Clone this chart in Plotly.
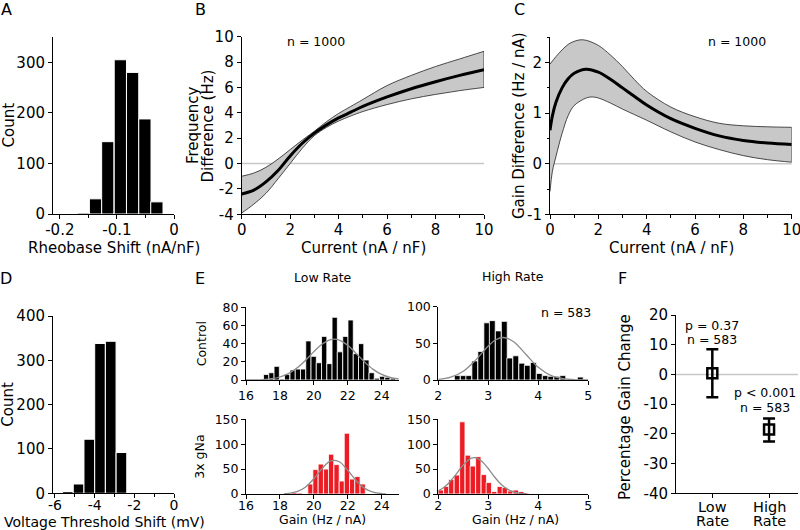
import plotly.graph_objects as go

# ---------------- data ----------------
# A: rheobase shift histogram
a_centers = [-0.158, -0.1375, -0.116, -0.094, -0.0725, -0.051, -0.030]
a_counts = [2, 30, 143, 305, 280, 188, 24]
a_width = 0.0215

# B: frequency difference vs current
b_x = [0, 0.5, 1, 1.5, 2, 2.5, 3, 3.5, 4, 4.5, 5, 6, 7, 8, 9, 10]
b_mean = [-2.4, -2.1, -1.45, -0.55, 0.6, 1.6, 2.4, 3.05, 3.6, 4.05, 4.5, 5.25, 5.9, 6.45, 6.95, 7.4]
b_upper = [-1.0, -0.75, -0.3, 0.35, 1.1, 1.85, 2.55, 3.3, 3.95, 4.5, 5.05, 6.15, 6.95, 7.65, 8.25, 8.85]
b_lower = [-3.9, -3.2, -2.35, -1.2, 0.0, 1.2, 2.2, 2.85, 3.35, 3.75, 4.1, 4.65, 5.1, 5.45, 5.75, 6.0]

# C: gain difference vs current
c_x_mean = [0, 0.1, 0.25, 0.5, 0.75, 1, 1.5, 2, 2.5, 3, 3.5, 4, 5, 6, 7, 8, 9, 10]
c_mean = [0.66, 0.95, 1.22, 1.5, 1.68, 1.79, 1.87, 1.81, 1.67, 1.5, 1.33, 1.16, 0.89, 0.7, 0.55, 0.46, 0.41, 0.38]
c_x_upper = [0, 0.25, 0.5, 0.75, 1, 1.25, 1.5, 2, 2.5, 3, 3.5, 4, 5, 6, 7, 8, 9, 10]
c_upper = [1.97, 2.12, 2.25, 2.36, 2.42, 2.45, 2.44, 2.34, 2.15, 1.92, 1.66, 1.43, 1.12, 0.93, 0.8, 0.75, 0.73, 0.72]
c_x_lower = [0, 0.1, 0.25, 0.5, 0.75, 1, 1.5, 1.75, 2, 2.5, 3, 3.5, 4, 5, 6, 7, 8, 9, 10]
c_lower = [-0.55, -0.15, 0.15, 0.6, 0.95, 1.15, 1.3, 1.32, 1.3, 1.2, 1.08, 0.97, 0.86, 0.63, 0.43, 0.28, 0.16, 0.08, 0.03]

# D: voltage threshold shift histogram
d_centers = [-5.35, -4.81, -4.27, -3.73, -3.19, -2.65]
d_counts = [4, 21, 122, 338, 343, 92]
d_width = 0.537

# E: gain histograms
e1_centers = [17.19, 17.50, 17.81, 18.12, 18.43, 18.75, 19.06, 19.37, 19.68, 19.99, 20.30, 20.61,
              20.92, 21.23, 21.54, 21.86, 22.17, 22.48, 22.79, 23.10, 23.41, 23.72, 24.03, 24.34, 24.66]
e1_counts = [6, 8, 15, 1, 6, 11, 12, 12, 43, 26, 19, 48, 18, 69, 31, 48, 66, 29, 40, 22, 8, 2, 4, 3, 2]
e1_fit_x = [16, 16.5, 17, 17.5, 18, 18.5, 19, 19.5, 20, 20.5, 21, 21.5, 22, 22.5, 23, 23.5, 24, 24.5, 25]
e1_fit_y = [0.05, 0.16, 0.5, 1.4, 3.3, 7.0, 13.1, 21.5, 31.2, 39.7, 44.5, 44.0, 38.2, 29.2, 19.7, 11.7, 6.1, 2.8, 1.1]

e2_centers = [18.54, 18.85, 19.17, 19.80, 20.10, 20.41, 20.73, 21.02, 21.34, 21.65, 21.95, 22.26, 22.57, 22.88]
e2_counts = [1, 3, 2, 20, 49, 60, 50, 80, 59, 26, 122, 30, 35, 20]
e2_fit_x = [18.25, 18.5, 19, 19.5, 20, 20.5, 21, 21.5, 22, 22.5, 23, 23.5, 24, 24.25]
e2_fit_y = [0.5, 1.2, 4.7, 13.7, 30.6, 51.8, 66.5, 64.7, 47.7, 26.7, 11.3, 3.6, 0.9, 0.4]

e3_centers = [2.38, 2.50, 2.61, 2.73, 2.85, 2.97, 3.08, 3.20, 3.32, 3.43, 3.55, 3.67, 3.78, 3.90,
              4.02, 4.14, 4.25, 4.37, 4.49, 4.60, 4.72, 4.84]
e3_counts = [6, 6, 6, 26, 39, 78, 81, 67, 80, 30, 33, 23, 20, 24, 9, 6, 5, 5, 6, 0, 0, 4]
e3_fit_x = [2.0, 2.25, 2.5, 2.75, 3.0, 3.15, 3.3, 3.5, 3.75, 4.0, 4.25, 4.5, 4.75, 5.0]
e3_fit_y = [0.9, 3.8, 11.9, 27.5, 46.4, 54.9, 58.0, 52.5, 35.2, 17.3, 6.2, 1.7, 0.3, 0.05]

e4_centers = [2.05, 2.16, 2.26, 2.37, 2.48, 2.59, 2.69, 2.80, 2.91, 3.01, 3.12, 3.23, 3.33, 3.44, 3.55, 3.66, 3.76]
e4_counts = [8, 15, 29, 38, 145, 78, 56, 75, 39, 23, 5, 15, 13, 6, 8, 5, 2]
e4_fit_x = [2.00, 2.11, 2.22, 2.33, 2.44, 2.55, 2.66, 2.77, 2.88, 2.99, 3.10, 3.21, 3.32, 3.43, 3.54, 3.65, 3.76]
e4_fit_y = [6.8, 13.2, 23.2, 36.3, 50.9, 63.9, 71.8, 72.2, 64.9, 52.2, 37.6, 24.2, 14.0, 7.2, 3.3, 1.4, 0.5]

# F: percentage gain change
f_pos = [0, 1]
f_labels = ["Low Rate", "High Rate"]
f_mean = [0.37, -18.5]
f_hi = [8.45, -14.8]
f_lo = [-7.7, -22.6]

# ---------------- layout helpers ----------------
W, H = 800, 530
FONT = "DejaVu Sans"


def dx(a, b):
    return [a / W, b / W]


def dy(top, bottom):
    return [1 - bottom / H, 1 - top / H]


def axis(domain, rng, anchor, tickvals, ticktext=None, size=15, minor=None, standoff=0):
    d = dict(domain=domain, range=rng, anchor=anchor, showline=True, linecolor="black", linewidth=1,
             ticks="outside", ticklen=4, tickwidth=1, tickcolor="black", showgrid=False, zeroline=False,
             automargin=False, ticklabeloverflow="allow",
             tickmode="array", tickvals=tickvals,
             ticktext=ticktext if ticktext is not None else [str(v) for v in tickvals],
             tickfont=dict(family=FONT, size=size, color="black"), fixedrange=True)
    if standoff:
        d["ticklabelstandoff"] = standoff
    if minor is not None:
        d["minor"] = dict(ticks="outside", ticklen=2.5, tickwidth=1, tickcolor="black",
                          tick0=minor[0], dtick=minor[1], showgrid=False)
    return d


fig = go.Figure()

# A
fig.add_trace(go.Bar(x=a_centers, y=a_counts, width=a_width, xaxis="x", yaxis="y",
                     marker=dict(color="black", line=dict(color="white", width=1))))
# D
fig.add_trace(go.Bar(x=d_centers, y=d_counts, width=d_width, xaxis="x4", yaxis="y4",
                     marker=dict(color="black", line=dict(color="white", width=1))))

# B band
fig.add_trace(go.Scatter(x=b_x, y=b_lower, mode="lines", xaxis="x2", yaxis="y2",
                         line=dict(color="#222222", width=0.8, shape="spline")))
fig.add_trace(go.Scatter(x=b_x, y=b_upper, mode="lines", xaxis="x2", yaxis="y2", fill="tonexty",
                         fillcolor="#c8c8c8", line=dict(color="#222222", width=0.8, shape="spline")))
fig.add_trace(go.Scatter(x=[b_x[-1], b_x[-1]], y=[b_lower[-1], b_upper[-1]], mode="lines",
                         xaxis="x2", yaxis="y2", line=dict(color="#222222", width=0.8)))
fig.add_trace(go.Scatter(x=b_x, y=b_mean, mode="lines", xaxis="x2", yaxis="y2",
                         line=dict(color="black", width=3, shape="spline")))

# C band
fig.add_trace(go.Scatter(x=c_x_lower, y=c_lower, mode="lines", xaxis="x3", yaxis="y3",
                         line=dict(color="#222222", width=0.8, shape="spline")))
fig.add_trace(go.Scatter(x=c_x_upper, y=c_upper, mode="lines", xaxis="x3", yaxis="y3", fill="tonexty",
                         fillcolor="#c8c8c8", line=dict(color="#222222", width=0.8, shape="spline")))
fig.add_trace(go.Scatter(x=[c_x_upper[-1], c_x_lower[-1]], y=[c_upper[-1], c_lower[-1]], mode="lines",
                         xaxis="x3", yaxis="y3", line=dict(color="#222222", width=0.8)))
fig.add_trace(go.Scatter(x=c_x_mean, y=c_mean, mode="lines", xaxis="x3", yaxis="y3",
                         line=dict(color="black", width=3, shape="spline")))

# E histograms
for cx, cy, fx, fy, col, w, xa, ya in [
    (e1_centers, e1_counts, e1_fit_x, e1_fit_y, "black", 0.311, "x5", "y5"),
    (e2_centers, e2_counts, e2_fit_x, e2_fit_y, "#ec1c24", 0.311, "x6", "y6"),
    (e3_centers, e3_counts, e3_fit_x, e3_fit_y, "black", 0.117, "x7", "y7"),
    (e4_centers, e4_counts, e4_fit_x, e4_fit_y, "#ec1c24", 0.107, "x8", "y8"),
]:
    fig.add_trace(go.Bar(x=cx, y=cy, width=w, xaxis=xa, yaxis=ya,
                         marker=dict(color=col, line=dict(color="white", width=0.8))))
    fig.add_trace(go.Scatter(x=fx, y=fy, mode="lines", xaxis=xa, yaxis=ya,
                             line=dict(color="#8c8c8c", width=1.3, shape="spline")))

# F
fig.add_trace(go.Scatter(
    x=f_pos, y=f_mean, mode="markers", xaxis="x9", yaxis="y9",
    marker=dict(symbol="square-open", size=10, color="black", line=dict(width=2.5, color="black")),
    error_y=dict(type="data", symmetric=False,
                 array=[h - m for h, m in zip(f_hi, f_mean)],
                 arrayminus=[m - l for m, l in zip(f_mean, f_lo)],
                 thickness=2.5, width=6, color="black")))

# zero lines
shapes = []
for xa, ya in [("x2", "y2"), ("x3", "y3"), ("x9", "y9")]:
    shapes.append(dict(type="line", xref=xa + " domain", yref=ya, x0=0, x1=1, y0=0, y1=0,
                       line=dict(color="#c8c8c8", width=1.5), layer="below"))

# annotations
anns = []


def ann(text, x, y, size=15, angle=0):
    anns.append(dict(text=text, x=x / W, y=1 - y / H, xref="paper", yref="paper",
                     xanchor="center", yanchor="middle", showarrow=False, textangle=angle,
                     font=dict(family=FONT, size=size, color="black")))


ann("A", 6, 9.5, 16)
ann("B", 200, 9.5, 16)
ann("C", 519, 9.5, 16)
ann("D", 5.5, 278.5, 16)
ann("E", 200, 278.5, 16)
ann("F", 622, 278, 16)

ann("Count", 8, 125.5, 15, -90)
ann("Rheobase Shift (nA/nF)", 113.5, 248, 15)
ann("Frequency", 192.5, 125.5, 15, -90)
ann("Difference (Hz)", 207, 125.5, 15, -90)
ann("Current (nA / nF)", 363, 248, 15)
ann("n = 1000", 316, 42, 12.5)
ann("Gain Difference (Hz / nA)", 518.5, 125.5, 15, -90)
ann("Current (nA / nF)", 671, 248, 15)
ann("n = 1000", 737, 42, 12.5)

ann("Count", 8, 404.7, 15, -90)
ann("Voltage Threshold Shift (mV)", 104, 521.5, 14)

ann("Low Rate", 322.5, 277.5, 12.5)
ann("High Rate", 513.3, 276.5, 12.5)
ann("Control", 201.7, 343.6, 12.5, -90)
ann("3x gNa", 200, 456.7, 12.5, -90)
ann("Gain (Hz / nA)", 322.5, 519.5, 12.5)
ann("Gain (Hz / nA)", 515, 519.5, 12.5)
ann("n = 583", 566, 312, 12.5)

ann("Percentage Gain Change", 625, 407, 15, -90)
ann("p = 0.37", 711.7, 325, 12.5)
ann("n = 583", 711.7, 339.5, 12.5)
ann("p < 0.001", 765, 392.7, 12.5)
ann("n = 583", 765, 407, 12.5)

# F category labels (two lines, tight spacing like the reference)
for xpx, lab in zip([712.3, 769], f_labels):
    w1, w2 = lab.split(" ")
    ann(w1, xpx, 507, 14.5)
    ann(w2, xpx, 520.5, 14.5)

layout = dict(
    template="none",
    width=W, height=H, margin=dict(l=0, r=0, t=0, b=0, pad=0), showlegend=False, autosize=False,
    plot_bgcolor="white", paper_bgcolor="white", barmode="overlay",
    shapes=shapes, annotations=anns,
    xaxis=axis(dx(53, 174), [-0.212, 0], "y", [-0.2, -0.1, 0], ["-0.2", "-0.1", "0"], minor=(-0.2, 0.05),
               standoff=-2),
    yaxis=axis(dy(37, 214), [0, 350], "x", [0, 100, 200, 300]),
    xaxis2=axis(dx(241.7, 484), [0, 10], "y2", [0, 2, 4, 6, 8, 10], minor=(0, 1), standoff=-2),
    yaxis2=axis(dy(36.7, 214.3), [-4, 10], "x2", [-4, -2, 0, 2, 4, 6, 8, 10],
                ["-4", "-2", "0", "2", "4", "6", "8", "10"]),
    xaxis3=axis(dx(550, 791.7), [0, 10], "y3", [0, 2, 4, 6, 8, 10], minor=(0, 1), standoff=-2),
    yaxis3=axis(dy(37.3, 214.3), [-1, 2.5], "x3", [-1, 0, 1, 2], ["-1", "0", "1", "2"], minor=(-1, 0.5)),
    xaxis4=axis(dx(53, 174), [-6.1, 0], "y4", [-6, -4, -2, 0], ["-6", "-4", "-2", "0"], minor=(-6, 1),
                size=14, standoff=-5),
    yaxis4=axis(dy(316, 493.3), [0, 400], "x4", [0, 100, 200, 300, 400]),
    xaxis5=axis(dx(246, 399.3), [16, 25.04], "y5", [16, 18, 20, 22, 24], size=12.5),
    yaxis5=axis(dy(307.3, 380), [0, 80], "x5", [0, 20, 40, 60, 80], size=12.5),
    xaxis6=axis(dx(246, 399.3), [16, 25.04], "y6", [16, 18, 20, 22, 24], size=12.5, standoff=-4),
    yaxis6=axis(dy(419.3, 494), [0, 150], "x6", [0, 50, 100, 150], size=12.5),
    xaxis7=axis(dx(438.3, 588.3), [2, 5], "y7", [2, 3, 4, 5], size=12.5),
    yaxis7=axis(dy(306.7, 380), [0, 100], "x7", [0, 50, 100], size=12.5),
    xaxis8=axis(dx(438.3, 588.3), [2, 5], "y8", [2, 3, 4, 5], size=12.5, standoff=-4),
    yaxis8=axis(dy(419.3, 494), [0, 150], "x8", [0, 50, 100, 150], size=12.5),
    xaxis9=axis(dx(676, 798), [-0.64, 1.51], "y9", f_pos, ["", ""]),
    yaxis9=axis(dy(315, 493.3), [-40, 20], "x9", [-40, -30, -20, -10, 0, 10, 20],
                ["-40", "-30", "-20", "-10", "0", "10", "20"]),
)
fig.update_layout(**layout)
fig.write_html("out.html", config={"displayModeBar": False},
               post_script="document.body.style.margin='0px';document.body.style.overflow='hidden';")
